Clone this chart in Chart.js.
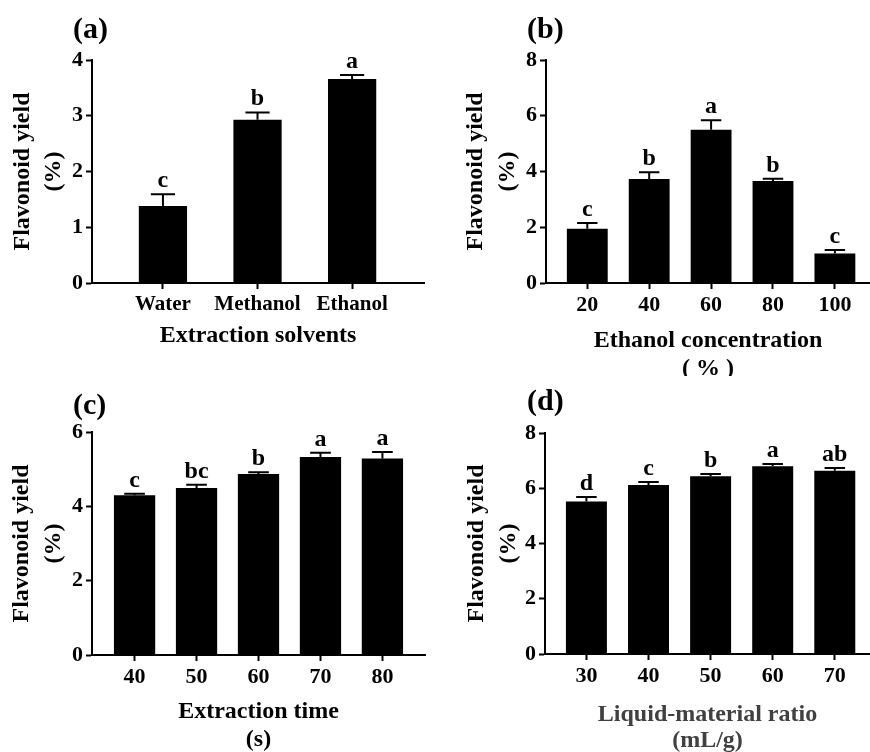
<!DOCTYPE html>
<html>
<head>
<meta charset="utf-8">
<script src="https://cdn.jsdelivr.net/npm/chart.js@4.4.0/dist/chart.umd.min.js"></script>
<style>
  body { margin: 0; background: #fff; }
  #wrap { position: relative; width: 870px; height: 752px; overflow: hidden; }
  canvas { position: absolute; }
</style>
</head>
<body>
<div id="wrap">
  <canvas id="pa" width="435" height="376" style="left:0;top:0"></canvas>
  <canvas id="pb" width="435" height="376" style="left:435px;top:0"></canvas>
  <canvas id="pc" width="435" height="376" style="left:0;top:376px"></canvas>
  <canvas id="pd" width="435" height="376" style="left:435px;top:376px"></canvas>
</div>
<script>
// (a) extraction solvents
const solventLabels = ['Water', 'Methanol', 'Ethanol'];
const solventYield = [1.38, 2.93, 3.66];
const solventSD = [0.21, 0.13, 0.07];
const solventSig = ['c', 'b', 'a'];
const solventTicks = [0, 1, 2, 3, 4];

// (b) ethanol concentration
const ethanolLabels = ['20', '40', '60', '80', '100'];
const ethanolYield = [1.95, 3.73, 5.50, 3.66, 1.06];
const ethanolSD = [0.20, 0.24, 0.34, 0.08, 0.12];
const ethanolSig = ['c', 'b', 'a', 'b', 'c'];
const ethanolTicks = [0, 2, 4, 6, 8];

// (c) extraction time
const timeLabels = ['40', '50', '60', '70', '80'];
const timeYield = [4.30, 4.49, 4.87, 5.33, 5.29];
const timeSD = [0.04, 0.09, 0.05, 0.11, 0.17];
const timeSig = ['c', 'bc', 'b', 'a', 'a'];
const timeTicks = [0, 2, 4, 6];

// (d) liquid-material ratio
const ratioLabels = ['30', '40', '50', '60', '70'];
const ratioYield = [5.52, 6.12, 6.43, 6.80, 6.63];
const ratioSD = [0.16, 0.11, 0.09, 0.08, 0.10];
const ratioSig = ['d', 'c', 'b', 'a', 'ab'];
const ratioTicks = [0, 2, 4, 6, 8];

const FONT = 'Liberation Serif';
Chart.defaults.font.family = FONT;
Chart.defaults.font.weight = 'bold';
Chart.defaults.color = '#000';

function panel(id, o) {
  // error bars (upper only) and significance letters
  const errorBars = {
    id: 'errorBars',
    afterDatasetsDraw(chart) {
      const ctx = chart.ctx;
      const y = chart.scales.y;
      const bars = chart.getDatasetMeta(0).data;
      ctx.save();
      ctx.strokeStyle = '#000';
      ctx.lineWidth = 2;
      ctx.fillStyle = '#000';
      ctx.font = 'bold 24px "' + FONT + '"';
      ctx.textAlign = 'center';
      ctx.textBaseline = 'alphabetic';
      bars.forEach((bar, i) => {
        const top = y.getPixelForValue(o.values[i] + o.sd[i]);
        const half = bar.width * 0.25;
        ctx.beginPath();
        ctx.moveTo(bar.x, bar.y);
        ctx.lineTo(bar.x, top);
        ctx.moveTo(bar.x - half, top);
        ctx.lineTo(bar.x + half, top);
        ctx.stroke();
        ctx.fillText(o.sig[i], bar.x, top - 7);
      });
      ctx.restore();
    }
  };

  const panelTag = {
    id: 'panelTag',
    afterDraw(chart) {
      const ctx = chart.ctx;
      ctx.save();
      ctx.fillStyle = '#000';
      ctx.font = 'bold 30px "' + FONT + '"';
      ctx.textBaseline = 'alphabetic';
      ctx.fillText(o.tag, o.tagX, o.tagY);
      ctx.restore();
    }
  };

  new Chart(document.getElementById(id), {
    type: 'bar',
    data: {
      datasets: [{
        data: o.values.map((v, i) => ({ x: i + 1, y: v })),
        backgroundColor: '#000',
        borderWidth: 0,
        categoryPercentage: 1,
        barPercentage: o.bar
      }]
    },
    options: {
      responsive: false,
      animation: false,
      layout: { padding: { top: o.top, right: o.right, left: 0, bottom: 0 } },
      plugins: { legend: { display: false }, tooltip: { enabled: false } },
      scales: {
        x: {
          type: 'linear',
          offset: false,
          min: o.xmin,
          max: o.xmax,
          afterBuildTicks: s => { s.ticks = o.labels.map((l, i) => ({ value: i + 1 })); },
          afterFit: s => { s.height = o.xh; },
          ticks: {
            callback: (v, i) => o.labels[i],
            font: { size: o.xTickSize },
            padding: 3,
            autoSkip: false,
            maxRotation: 0
          },
          grid: { offset: false, drawOnChartArea: false, tickLength: 6, tickWidth: 2, tickColor: '#000' },
          border: { color: '#000', width: 2 },
          title: {
            display: true,
            text: o.xTitle,
            color: o.xTitleColor || '#000',
            font: { size: 24, lineHeight: o.xLH },
            padding: { top: 0, bottom: o.xPad }
          }
        },
        y: {
          min: o.yTicks[0],
          max: o.yTicks[o.yTicks.length - 1],
          afterBuildTicks: s => { s.ticks = o.yTicks.map(v => ({ value: v })); },
          afterFit: s => { s.width = o.yw; },
          ticks: { font: { size: 22 }, padding: 3 },
          grid: { drawOnChartArea: false, tickLength: 6, tickWidth: 2, tickColor: '#000' },
          border: { color: '#000', width: 2 },
          title: {
            display: true,
            text: ['Flavonoid yield', '(%)'],
            font: { size: 24, lineHeight: 1.33 },
            padding: { top: o.yPad, bottom: 0 }
          }
        }
      }
    },
    plugins: [errorBars, panelTag]
  });
}

panel('pa', {
  labels: solventLabels, values: solventYield, sd: solventSD, sig: solventSig, yTicks: solventTicks,
  xmin: 0.25, xmax: 3.76, bar: 0.51, top: 60, right: 11, yw: 92, xh: 93, xTickSize: 21,
  xTitle: 'Extraction solvents', xLH: 1.2, xPad: 25.6, yPad: 6.4,
  tag: '(a)', tagX: 73, tagY: 38
});
panel('pb', {
  labels: ethanolLabels, values: ethanolYield, sd: ethanolSD, sig: ethanolSig, yTicks: ethanolTicks,
  xmin: 0.333, xmax: 5.567, bar: 0.66, top: 60, right: 0, yw: 111, xh: 93, xTickSize: 22,
  xTitle: ['Ethanol concentration', '( % )'], xLH: 1.17, xPad: -6.5, yPad: 25,
  tag: '(b)', tagX: 92, tagY: 38
});
panel('pc', {
  labels: timeLabels, values: timeYield, sd: timeSD, sig: timeSig, yTicks: timeTicks,
  xmin: 0.313, xmax: 5.687, bar: 0.666, top: 56, right: 10, yw: 92, xh: 97, xTickSize: 22,
  xTitle: ['Extraction time', '(s)'], xLH: 1.17, xPad: -1.5, yPad: 6,
  tag: '(c)', tagX: 73, tagY: 38
});
panel('pd', {
  labels: ratioLabels, values: ratioYield, sd: ratioSD, sig: ratioSig, yTicks: ratioTicks,
  xmin: 0.333, xmax: 5.567, bar: 0.66, top: 57, right: 0, yw: 110, xh: 98, xTickSize: 22,
  xTitle: ['Liquid-material ratio', '(mL/g)'], xTitleColor: '#404040', xLH: 1.08, xPad: -2, yPad: 25.5,
  tag: '(d)', tagX: 92, tagY: 34
});
</script>
</body>
</html>
